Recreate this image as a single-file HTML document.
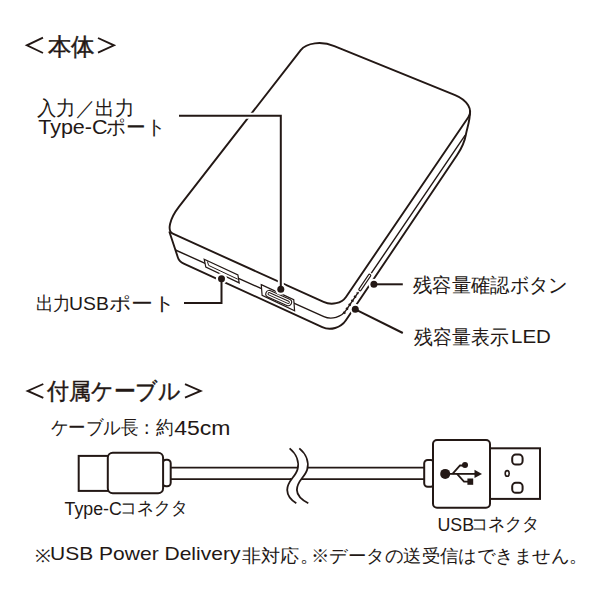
<!DOCTYPE html>
<html><head><meta charset="utf-8"><style>
html,body{margin:0;padding:0;background:#fff;width:600px;height:600px;overflow:hidden}
svg{display:block}
text{font-family:"Liberation Sans", sans-serif;fill:#231815}
</style></head><body>
<svg width="600" height="600" viewBox="0 0 600 600">
<rect width="600" height="600" fill="#fff"/>
<path d="M300.75,50.05 C306.49,42.67 321.61,40.86 334.35,46.03 L455.1,95.05 C467.33,100.01 473.29,110.02 468.33,117.3 L346,296.95 C341.67,303.32 331.57,305.56 323.55,301.93 L172.81,233.71 C166.8,230.98 169.61,218.81 179.06,206.65 Z" fill="#fff" stroke="#231815" stroke-width="1.9"/>
<path d="M169.3,231.5 L177.96,257.68 C178.65,259.77 181.26,262.42 183.76,263.56 L322.27,327.17 C330.27,330.84 340.83,327.87 345.74,320.57 L457.12,155 C461.5,148.5 464.6,142 465.9,134.5 C467.3,127 470.1,121 470.1,110.5" fill="none" stroke="#231815" stroke-width="1.9"/>
<path d="M175.42,250 L323.88,316.69 C331.41,320.07 341.34,317.24 345.96,310.4 L465.2,135.2" fill="none" stroke="#231815" stroke-width="1.4"/>
<path d="M204.2,259.2 L237.9,275 L239.2,282.9 L205.8,267.1 Z" fill="#fff" stroke="#231815" stroke-width="1.2"/>
<path d="M207.4,261.4 L208.6,265.4 L237.8,279.2" fill="none" stroke="#231815" stroke-width="1"/>
<path d="M261.25,284.6 L293.75,299.6 L294.6,310.8 L262.1,295.4 Z" fill="#fff" stroke="#231815" stroke-width="1.2"/>
<g transform="translate(278.7,298.1) rotate(24.23)"><rect x="-13.8" y="-3.4" width="27.6" height="6.8" rx="3.4" fill="none" stroke="#231815" stroke-width="1.1"/><rect x="-11.6" y="-1.2" width="23.2" height="2.4" rx="1.2" fill="none" stroke="#231815" stroke-width="0.9"/></g>
<line x1="360.07" y1="289.5" x2="369.52" y2="275.5" stroke="#fff" stroke-width="6" stroke-linecap="round"/>
<line x1="360.07" y1="289.5" x2="369.52" y2="275.5" stroke="#231815" stroke-width="3.6" stroke-linecap="round"/>
<line x1="360.07" y1="289.5" x2="369.52" y2="275.5" stroke="#fff" stroke-width="1.3" stroke-linecap="round"/>
<line x1="343.87" y1="313.5" x2="357.71" y2="293" stroke="#231815" stroke-width="2.6" stroke-dasharray="1.8 3" stroke-dashoffset="0"/>
<path d="M179,115.8 L280.8,115.8 L280.8,289.2" fill="none" stroke="#fff" stroke-width="6"/><circle cx="280.8" cy="289.2" r="5.6" fill="#fff"/><path d="M179,115.8 L280.8,115.8 L280.8,289.2" fill="none" stroke="#231815" stroke-width="2"/><circle cx="280.8" cy="289.2" r="3.5" fill="#231815"/>
<path d="M184,302.9 L221.5,302.9 L221.5,278.7" fill="none" stroke="#fff" stroke-width="6"/><circle cx="221.5" cy="278.7" r="5.6" fill="#fff"/><path d="M184,302.9 L221.5,302.9 L221.5,278.7" fill="none" stroke="#231815" stroke-width="2"/><circle cx="221.5" cy="278.7" r="3.5" fill="#231815"/>
<path d="M373.9,284.3 L402.8,284.3" fill="none" stroke="#fff" stroke-width="6"/><circle cx="373.9" cy="284.3" r="5.6" fill="#fff"/><path d="M373.9,284.3 L402.8,284.3" fill="none" stroke="#231815" stroke-width="2"/><circle cx="373.9" cy="284.3" r="3.5" fill="#231815"/>
<path d="M355.3,309.3 L402.8,333" fill="none" stroke="#fff" stroke-width="6"/><circle cx="355.3" cy="309.3" r="5.6" fill="#fff"/><path d="M355.3,309.3 L402.8,333" fill="none" stroke="#231815" stroke-width="2"/><circle cx="355.3" cy="309.3" r="3.5" fill="#231815"/>
<rect x="78.7" y="455.9" width="30" height="35" fill="#fff" stroke="#231815" stroke-width="2"/>
<rect x="162.7" y="459.8" width="8" height="26.4" rx="3.5" fill="#fff" stroke="#231815" stroke-width="2"/>
<rect x="107.8" y="452.8" width="55.3" height="40.4" rx="5" fill="#fff" stroke="#231815" stroke-width="2"/>
<line x1="170.7" y1="467.6" x2="299" y2="467.6" stroke="#231815" stroke-width="1.8"/>
<line x1="170.7" y1="479.2" x2="291" y2="479.2" stroke="#231815" stroke-width="1.8"/>
<line x1="300" y1="467.6" x2="425" y2="467.6" stroke="#231815" stroke-width="1.8"/>
<line x1="290" y1="479.2" x2="425" y2="479.2" stroke="#231815" stroke-width="1.8"/>
<path d="M289.6,448.4 C296.5,454 299.5,462 297.5,469.5 C295.5,477 287,481 287.2,490 C287.4,496 291,500 296.3,503.3 L308.3,503.3 C302,500 297.1,496 296.9,490 C296.7,481 305.2,477 307.2,469.5 C309.2,462 306.2,454 299.3,448.4 Z" fill="#fff" stroke="none"/>
<path d="M289.6,448.4 C296.5,454 299.5,462 297.5,469.5 C295.5,477 287,481 287.2,490 C287.4,496 291,500 296.3,503.3" fill="none" stroke="#231815" stroke-width="1.8"/>
<path d="M299.3,448.4 C306.2,454 309.2,462 307.2,469.5 C305.2,477 296.7,481 296.9,490 C297.1,496 302,500 308.3,503.3" fill="none" stroke="#231815" stroke-width="1.8"/>
<rect x="424.2" y="459.9" width="10" height="26.8" rx="3.5" fill="#fff" stroke="#231815" stroke-width="2"/>
<rect x="433" y="440" width="57" height="67.7" rx="4" fill="#fff" stroke="#231815" stroke-width="2"/>
<rect x="490" y="448.3" width="50" height="50.6" fill="#fff" stroke="#231815" stroke-width="2"/>
<rect x="512.2" y="454.6" width="10.4" height="10" rx="3.6" fill="none" stroke="#231815" stroke-width="2"/>
<rect x="512.2" y="482.8" width="10.4" height="10" rx="3.6" fill="none" stroke="#231815" stroke-width="2"/>
<ellipse cx="507.2" cy="473.4" rx="2" ry="2.8" fill="none" stroke="#231815" stroke-width="1.6"/>
<circle cx="445.2" cy="473.9" r="5" fill="#231815"/>
<path d="M445,473.9 L476,473.9" stroke="#231815" stroke-width="1.8"/>
<path d="M482,473.9 L474.5,469.8 L474.5,478 Z" fill="#231815"/>
<path d="M452.5,473.9 L460,465.5 L465,465.5" fill="none" stroke="#231815" stroke-width="1.8"/>
<circle cx="465" cy="465" r="3" fill="#231815"/>
<path d="M457,473.9 L464,481.6 L468,481.6" fill="none" stroke="#231815" stroke-width="1.8"/>
<rect x="467.4" y="478.5" width="5.8" height="6.3" fill="#231815"/>
<path d="M43,37.7 L26.9,45.3 L43,53 M98,38 L114,45.3 L98,52.7" fill="none" stroke="#231815" stroke-width="1.9" stroke-linecap="butt" stroke-linejoin="miter"/>
<path d="M43.3,384 L27.7,390.9 L43.3,397.8 M185,384.2 L200.6,390.9 L185,397.6" fill="none" stroke="#231815" stroke-width="1.9" stroke-linecap="butt" stroke-linejoin="miter"/>
<text x="48" y="54.8" font-size="24" textLength="46.84" lengthAdjust="spacingAndGlyphs" stroke="#231815" stroke-width="0.45">本体</text>
<text x="47" y="399.2" font-size="23" textLength="134.12" lengthAdjust="spacingAndGlyphs" stroke="#231815" stroke-width="0.45">付属ケーブル</text>
<text x="37" y="114.6" font-size="19.5" textLength="96.92" lengthAdjust="spacingAndGlyphs">入力／出力</text>
<text x="38.2" y="134.2" font-size="20.5" textLength="69.36" lengthAdjust="spacingAndGlyphs">Type-C</text>
<text x="106.4" y="134.2" font-size="19.5" textLength="59.15" lengthAdjust="spacingAndGlyphs">ポート</text>
<text x="36" y="310" font-size="19" textLength="34.81" lengthAdjust="spacingAndGlyphs">出力</text>
<text x="69" y="310" font-size="18.5" textLength="39.85" lengthAdjust="spacingAndGlyphs">USB</text>
<text x="109" y="310" font-size="19" textLength="65.69" lengthAdjust="spacingAndGlyphs">ポート</text>
<text x="413" y="292.4" font-size="19.5" textLength="154.62" lengthAdjust="spacingAndGlyphs">残容量確認ボタン</text>
<text x="414" y="344" font-size="19.5" textLength="94.44" lengthAdjust="spacingAndGlyphs">残容量表示</text>
<text x="511" y="343" font-size="17.8" textLength="39.85" lengthAdjust="spacingAndGlyphs">LED</text>
<text x="51" y="433.6" font-size="18.5" textLength="122.48" lengthAdjust="spacingAndGlyphs">ケーブル長：約</text>
<text x="174.2" y="435" font-size="20" textLength="56.22" lengthAdjust="spacingAndGlyphs">45cm</text>
<text x="64.6" y="515.4" font-size="17.5" textLength="57.26" lengthAdjust="spacingAndGlyphs">Type-C</text>
<text x="120.2" y="514" font-size="17.5" textLength="67.09" lengthAdjust="spacingAndGlyphs">コネクタ</text>
<text x="437.4" y="530.8" font-size="17.5" textLength="36.7" lengthAdjust="spacingAndGlyphs">USB</text>
<text x="471" y="529.8" font-size="17.5" textLength="68.59" lengthAdjust="spacingAndGlyphs">コネクタ</text>
<text x="35" y="562" font-size="17.5" textLength="16.18" lengthAdjust="spacingAndGlyphs">※</text>
<text x="50" y="560" font-size="18.2" textLength="190.4" lengthAdjust="spacingAndGlyphs">USB Power Delivery</text>
<text x="242" y="562" font-size="17.5" textLength="76.68" lengthAdjust="spacingAndGlyphs">非対応。</text>
<text x="311" y="562" font-size="17.5" textLength="276.56" lengthAdjust="spacingAndGlyphs">※データの送受信はできません。</text>
</svg>
</body></html>
